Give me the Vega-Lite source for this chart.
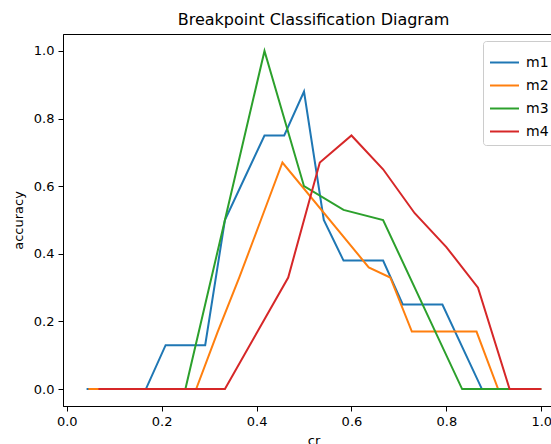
{
  "$schema": "https://vega.github.io/schema/vega-lite/v6.json",
  "width": 501,
  "height": 372,
  "autosize": {"type": "none"},
  "padding": {"left": 63, "top": 34, "right": 0, "bottom": 38},
  "background": "white",
  "title": {"text": "Breakpoint Classification Diagram", "font": "DejaVu Sans", "fontSize": 16, "fontWeight": "normal", "color": "black", "anchor": "middle", "offset": 6},
  "config": {
    "view": {"stroke": "black", "strokeWidth": 1},
    "axis": {"grid": false, "domainColor": "black", "tickColor": "black", "tickSize": 5, "labelFont": "DejaVu Sans", "labelFontSize": 13, "labelColor": "black", "titleFont": "DejaVu Sans", "titleFontSize": 13, "titleFontWeight": "normal", "titleColor": "black", "labelPadding": 4}
  },
  "data": {"values": [
    {"model": "m1", "cr": 0.0417, "accuracy": 0},
    {"model": "m1", "cr": 0.1667, "accuracy": 0},
    {"model": "m1", "cr": 0.2083, "accuracy": 0.13},
    {"model": "m1", "cr": 0.2917, "accuracy": 0.13},
    {"model": "m1", "cr": 0.3333, "accuracy": 0.5},
    {"model": "m1", "cr": 0.375, "accuracy": 0.625},
    {"model": "m1", "cr": 0.4167, "accuracy": 0.75},
    {"model": "m1", "cr": 0.4583, "accuracy": 0.75},
    {"model": "m1", "cr": 0.5, "accuracy": 0.88},
    {"model": "m1", "cr": 0.5417, "accuracy": 0.5},
    {"model": "m1", "cr": 0.5833, "accuracy": 0.38},
    {"model": "m1", "cr": 0.6667, "accuracy": 0.38},
    {"model": "m1", "cr": 0.7083, "accuracy": 0.25},
    {"model": "m1", "cr": 0.7917, "accuracy": 0.25},
    {"model": "m1", "cr": 0.875, "accuracy": 0},
    {"model": "m1", "cr": 1.0, "accuracy": 0},
    {"model": "m2", "cr": 0.0455, "accuracy": 0},
    {"model": "m2", "cr": 0.2727, "accuracy": 0},
    {"model": "m2", "cr": 0.3182, "accuracy": 0.17},
    {"model": "m2", "cr": 0.3636, "accuracy": 0.33},
    {"model": "m2", "cr": 0.4091, "accuracy": 0.5},
    {"model": "m2", "cr": 0.4545, "accuracy": 0.67},
    {"model": "m2", "cr": 0.6364, "accuracy": 0.36},
    {"model": "m2", "cr": 0.6818, "accuracy": 0.33},
    {"model": "m2", "cr": 0.7273, "accuracy": 0.17},
    {"model": "m2", "cr": 0.8636, "accuracy": 0.17},
    {"model": "m2", "cr": 0.9091, "accuracy": 0},
    {"model": "m2", "cr": 1.0, "accuracy": 0},
    {"model": "m3", "cr": 0.0833, "accuracy": 0},
    {"model": "m3", "cr": 0.25, "accuracy": 0},
    {"model": "m3", "cr": 0.3333, "accuracy": 0.5},
    {"model": "m3", "cr": 0.4167, "accuracy": 1.0},
    {"model": "m3", "cr": 0.5, "accuracy": 0.6},
    {"model": "m3", "cr": 0.5833, "accuracy": 0.53},
    {"model": "m3", "cr": 0.6667, "accuracy": 0.5},
    {"model": "m3", "cr": 0.8333, "accuracy": 0},
    {"model": "m3", "cr": 1.0, "accuracy": 0},
    {"model": "m4", "cr": 0.0667, "accuracy": 0},
    {"model": "m4", "cr": 0.3333, "accuracy": 0},
    {"model": "m4", "cr": 0.4667, "accuracy": 0.33},
    {"model": "m4", "cr": 0.5333, "accuracy": 0.67},
    {"model": "m4", "cr": 0.6, "accuracy": 0.75},
    {"model": "m4", "cr": 0.6667, "accuracy": 0.65},
    {"model": "m4", "cr": 0.7333, "accuracy": 0.52},
    {"model": "m4", "cr": 0.8, "accuracy": 0.42},
    {"model": "m4", "cr": 0.8667, "accuracy": 0.3},
    {"model": "m4", "cr": 0.9333, "accuracy": 0},
    {"model": "m4", "cr": 1.0, "accuracy": 0}
  ]},
  "mark": {"type": "line", "strokeWidth": 2, "clip": true},
  "encoding": {
    "x": {"field": "cr", "type": "quantitative", "scale": {"domain": [-0.008, 1.048], "nice": false, "zero": false},
      "axis": {"values": [0, 0.2, 0.4, 0.6, 0.8, 1.0], "format": ".1f", "title": "cr", "titlePadding": 6}},
    "y": {"field": "accuracy", "type": "quantitative", "scale": {"domain": [-0.05, 1.05], "nice": false, "zero": false},
      "axis": {"values": [0, 0.2, 0.4, 0.6, 0.8, 1.0], "format": ".1f", "title": "accuracy", "titlePadding": 8}},
    "color": {"field": "model", "type": "nominal",
      "scale": {"domain": ["m1", "m2", "m3", "m4"], "range": ["#1f77b4", "#ff7f0e", "#2ca02c", "#d62728"]},
      "legend": {"title": null, "orient": "none", "legendX": 420, "legendY": 7, "symbolType": "stroke", "symbolSize": 841, "symbolStrokeWidth": 2, "labelFont": "DejaVu Sans", "labelFontSize": 14, "labelColor": "black", "fillColor": "white", "strokeColor": "#cccccc", "cornerRadius": 3, "padding": 6, "rowPadding": -5, "labelOffset": 6}
    }
  }
}
